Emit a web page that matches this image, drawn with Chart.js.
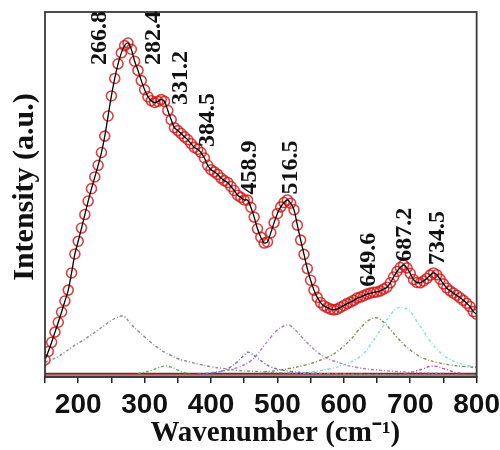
<!DOCTYPE html>
<html>
<head>
<meta charset="utf-8">
<script src="https://cdn.jsdelivr.net/npm/chart.js@4.4.1/dist/chart.umd.min.js"></script>
<style>
  html, body { margin: 0; padding: 0; background: #fff; }
  #wrap { width: 500px; height: 450px; }
</style>
</head>
<body>
<div id="wrap"><canvas id="raman"></canvas></div>
<script>
// measured spectrum, 150-800 cm-1 every 5 cm-1
const specStart = 150;
const specStep = 5;
const spectrum = [
  4.7, 7.0, 9.5, 12.3, 15.0, 17.8, 20.8, 23.8, 28.5, 33.7,
  37.2, 40.8, 44.5, 48.2, 51.6, 54.8, 58.0, 61.5, 66.0, 71.5,
  77.0, 81.8, 85.8, 88.8, 90.8, 91.5, 89.8, 86.5, 84.0, 81.2,
  78.7, 76.8, 75.7, 75.2, 75.5, 76.0, 75.5, 73.0, 70.5, 68.3,
  67.5, 66.7, 65.8, 65.0, 63.9, 62.9, 62.4, 61.5, 60.0, 58.0,
  56.8, 56.2, 55.5, 54.5, 53.8, 53.3, 52.2, 51.1, 49.8, 49.2,
  48.5, 48.5, 46.5, 43.8, 40.6, 38.3, 36.7, 37.0, 39.5, 42.3,
  44.8, 46.6, 47.8, 48.5, 47.6, 45.8, 41.6, 37.5, 33.6, 29.7,
  26.5, 23.8, 21.8, 20.4, 19.5, 19.0, 18.6, 18.4, 18.6, 19.1,
  19.6, 20.1, 20.5, 21.0, 21.6, 21.9, 22.3, 22.7, 23.0, 23.2,
  23.3, 23.6, 24.1, 24.6, 25.8, 27.4, 28.9, 30.0, 30.7, 29.9,
  28.4, 26.7, 25.9, 25.8, 26.3, 27.0, 27.9, 28.5, 28.0, 26.8,
  25.5, 24.4, 23.6, 23.0, 22.4, 21.7, 21.0, 20.2, 19.3, 17.9,
  17.2
];

// fitted component bands
const bandAX = [150, 160, 170, 180, 190, 200, 210, 220, 230, 240, 250, 260, 265, 270, 280, 290, 300, 310, 320, 330, 340, 350, 360, 370, 380, 400, 420, 440, 470, 500, 550, 600, 700, 800];
const bandAY = [4.0, 4.7, 5.6, 6.8, 8.1, 9.2, 10.4, 11.6, 12.9, 14.2, 15.5, 16.4, 16.7, 16.5, 14.4, 12.6, 11.0, 9.4, 8.0, 6.8, 5.9, 5.0, 4.5, 4.0, 3.6, 2.8, 2.3, 1.8, 1.5, 1.2, 1.0, 0.8, 0.6, 0.5];

const bandBX = [290, 300, 310, 320, 330, 340, 350, 360, 370];
const bandBY = [1.0, 1.3, 1.8, 2.5, 3.0, 2.7, 1.9, 1.2, 0.9];

const bandCX = [380, 400, 420, 430, 440, 450, 455, 460, 470, 480, 490, 500, 520, 540, 560];
const bandCY = [0.8, 1.1, 1.8, 2.8, 4.2, 6.0, 6.8, 6.5, 5.2, 3.8, 2.8, 2.2, 1.5, 1.2, 1.0];

const bandDX = [400, 420, 440, 460, 470, 480, 490, 500, 510, 515, 520, 530, 540, 550, 560, 570, 580, 600, 620, 650, 700, 750];
const bandDY = [1.2, 1.7, 2.6, 4.4, 6.3, 8.6, 10.9, 12.9, 14.0, 14.2, 14.0, 12.3, 10.3, 8.5, 6.8, 5.6, 4.7, 3.5, 2.6, 1.9, 1.3, 1.0];

const bandEX = [480, 500, 520, 540, 560, 580, 590, 600, 610, 620, 630, 640, 650, 660, 670, 680, 690, 700, 710, 720, 740, 760, 780, 800];
const bandEY = [1.4, 1.8, 2.4, 3.2, 4.3, 5.8, 7.0, 8.5, 10.2, 12.4, 14.4, 15.8, 16.2, 15.0, 13.0, 10.9, 9.0, 7.4, 6.1, 5.1, 4.0, 3.3, 2.9, 2.6];

const bandFX = [540, 560, 580, 600, 620, 630, 640, 650, 660, 670, 680, 690, 700, 710, 720, 730, 740, 750, 760, 770, 780, 790, 800];
const bandFY = [1.2, 1.6, 2.3, 3.3, 5.0, 6.5, 8.8, 11.5, 14.2, 17.0, 18.8, 19.0, 17.9, 15.3, 12.6, 9.8, 7.6, 6.0, 4.8, 4.0, 3.5, 3.0, 2.7];

const bandGX = [690, 700, 710, 720, 730, 740, 750, 760, 770, 780];
const bandGY = [0.9, 1.2, 1.7, 2.3, 2.9, 2.9, 2.3, 1.7, 1.2, 0.9];

const baseX = [150, 800];
const baseA = [0.9, 0.9];
const baseB = [0.35, 0.35];

// peak labels and where their text starts (wavenumber, intensity)
const peakLabels = ['266.8', '282.4', '331.2', '384.5', '458.9', '516.5', '649.6', '687.2', '734.5'];
const peakLabelX = [233, 314, 355, 395, 458, 520, 637, 692, 741];
const peakLabelY = [85.5, 85.5, 74.5, 63.0, 50.0, 50.0, 24.7, 31.6, 30.7];

const xTicksMin = 150;
const xTicksMax = 800;

const pts = (xs, ys) => xs.map((x, i) => ({ x, y: ys[i] }));
const specPts = spectrum.map((y, i) => ({ x: specStart + i * specStep, y }));

const band = (xs, ys, color) => ({
    data: pts(xs, ys),
    borderColor: color,
    borderWidth: 1.4,
    borderDash: [3, 2, 1, 2],
    pointRadius: 0,
    tension: 0.4,
    fill: false
});

// plot frame and rotated peak labels
const framePlugin = {
    id: 'frame',
    afterDatasetsDraw(chart) {
        const { ctx, chartArea: a, scales } = chart;
        ctx.save();
        ctx.strokeStyle = '#3a3a3a';
        ctx.lineWidth = 1.8;
        ctx.strokeRect(a.left, a.top, a.right - a.left, a.bottom - a.top);

        ctx.fillStyle = '#111';
        ctx.font = 'bold 24px "Liberation Serif", "Times New Roman", serif';
        ctx.textAlign = 'left';
        ctx.textBaseline = 'middle';
        peakLabels.forEach((t, i) => {
            const px = scales.x.getPixelForValue(peakLabelX[i]);
            const py = scales.y.getPixelForValue(peakLabelY[i]);
            ctx.save();
            ctx.translate(px, py);
            ctx.rotate(-Math.PI / 2);
            ctx.fillText(t, 0, 0);
            ctx.restore();
        });
        ctx.restore();
    }
};

new Chart(document.getElementById('raman'), {
    type: 'line',
    data: {
        datasets: [
            {
                data: specPts,
                borderColor: '#000',
                borderWidth: 1.3,
                pointRadius: 0,
                tension: 0.3,
                fill: false
            },
            {
                data: specPts,
                showLine: false,
                pointStyle: 'circle',
                pointRadius: 5,
                pointBorderWidth: 1.6,
                pointBorderColor: 'rgba(212, 22, 22, 0.82)',
                pointBackgroundColor: 'rgba(255, 255, 255, 0)'
            },
            band(bandAX, bandAY, '#8c8c8c'),
            band(bandBX, bandBY, '#4cbb4c'),
            band(bandCX, bandCY, '#6b6bc8'),
            band(bandDX, bandDY, '#b07cb8'),
            band(bandEX, bandEY, '#7c8c55'),
            band(bandFX, bandFY, '#80dede'),
            band(bandGX, bandGY, '#cc4499'),
            { data: pts(baseX, baseA), borderColor: '#8c1e2a', borderWidth: 2, pointRadius: 0 },
            { data: pts(baseX, baseB), borderColor: '#c08070', borderWidth: 1.5, pointRadius: 0 }
        ]
    },
    options: {
        responsive: true,
        maintainAspectRatio: false,
        animation: false,
        layout: { padding: { left: 7, right: 14, top: 12, bottom: 10 } },
        plugins: {
            legend: { display: false },
            tooltip: { enabled: false }
        },
        scales: {
            x: {
                type: 'linear',
                min: xTicksMin,
                max: xTicksMax,
                border: { display: true, color: '#222', width: 1.8 },
                grid: { drawOnChartArea: false, drawTicks: true, tickLength: 6, color: '#222', lineWidth: 1.5 },
                ticks: {
                    stepSize: 50,
                    autoSkip: false,
                    maxRotation: 0,
                    padding: 0,
                    color: '#111',
                    font: { family: '"Liberation Sans", Arial, sans-serif', size: 28, weight: 'bold', lineHeight: 1.57 },
                    callback: v => (v % 100 === 0 ? String(v) : '')
                },
                title: {
                    display: true,
                    text: '    Wavenumber (cm⁻¹)',
                    color: '#111',
                    padding: { top: 0, bottom: 0 },
                    font: { family: '"Liberation Serif", "Times New Roman", serif', size: 29, weight: 'bold', lineHeight: 0.45 }
                }
            },
            y: {
                min: 0,
                max: 100,
                border: { display: false },
                grid: { display: false, drawTicks: false },
                ticks: { display: false },
                title: {
                    display: true,
                    text: '  Intensity (a.u.)',
                    color: '#111',
                    padding: { top: 0, bottom: 2 },
                    font: { family: '"Liberation Serif", "Times New Roman", serif', size: 30, weight: 'bold' }
                }
            }
        }
    },
    plugins: [framePlugin]
});
</script>
</body>
</html>
